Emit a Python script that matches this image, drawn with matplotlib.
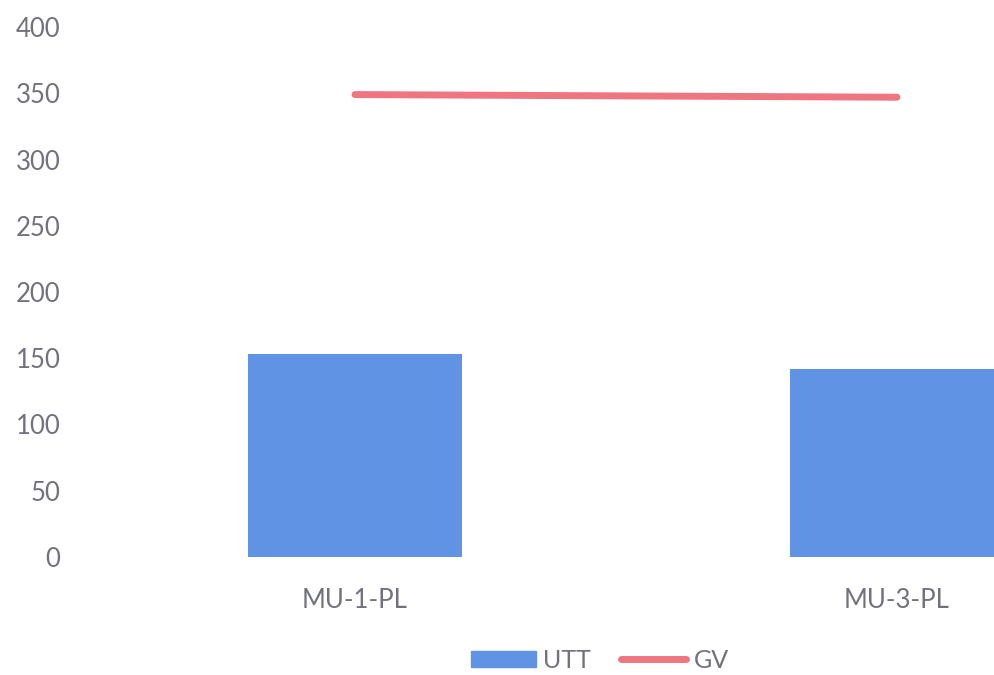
import matplotlib.pyplot as plt
from matplotlib.patches import Patch
from matplotlib.lines import Line2D

categories = ['MU-1-PL', 'MU-3-PL']
utt = [153, 142]
gv = [349, 347]
yticks = [0, 50, 100, 150, 200, 250, 300, 350, 400]

bar_color = '#6093E4'
line_color = '#EF7680'
text_color = '#72727E'

plt.rcParams['font.family'] = ['Lato', 'DejaVu Sans']

fig = plt.figure(figsize=(9.95, 6.75), dpi=100)
# plot area runs past the right edge, as in the cropped scan
ax = fig.add_axes([84/995, 118/675, (1168-84)/995, 530/675])

x = list(range(len(categories)))
ax.bar(x, utt, width=0.395, color=bar_color, zorder=2)
ax.plot(x, gv, color=line_color, linewidth=5, solid_capstyle='round', zorder=3)

ax.set_xlim(-0.5, 1.5)
ax.set_ylim(0, 400)
ax.set_yticks(yticks)
ax.set_xticks(x)
ax.set_xticklabels(categories)
ax.tick_params(axis='both', length=0, labelsize=18.5, labelcolor=text_color)
ax.tick_params(axis='y', pad=17)
ax.tick_params(axis='x', pad=22)
for s in ax.spines.values():
    s.set_visible(False)

handles = [Patch(color=bar_color, label='UTT'),
           Line2D([0], [0], color=line_color, linewidth=5, solid_capstyle='round', label='GV')]
fig.legend(handles=handles, loc='center', bbox_to_anchor=(600/995, 1-660/675),
           ncol=2, frameon=False, fontsize=18, labelcolor=text_color,
           handlelength=2.6, handleheight=0.6, handletextpad=0.3, columnspacing=1.2)

fig.savefig('out.png', dpi=100)
